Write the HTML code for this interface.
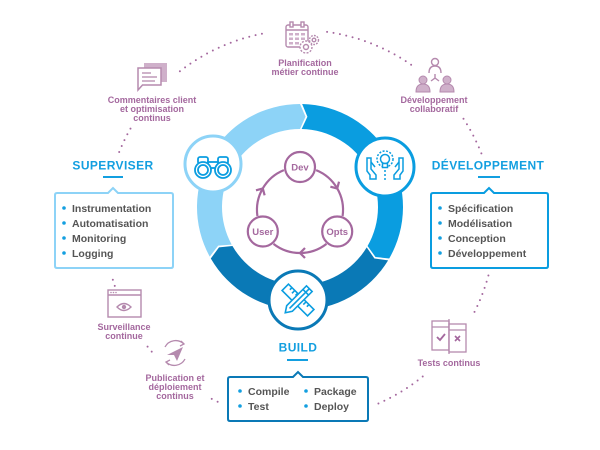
<!DOCTYPE html>
<html>
<head>
<meta charset="utf-8">
<style>
html,body{margin:0;padding:0;background:#fff;}
svg{display:block;}
.lbl{font-family:"Liberation Sans",sans-serif;font-weight:bold;font-size:9px;fill:#a4689e;text-anchor:middle;}
.hd{font-family:"Liberation Sans",sans-serif;font-weight:bold;font-size:12px;fill:#139fe0;text-anchor:middle;letter-spacing:0.4px;}
.it{font-family:"Liberation Sans",sans-serif;font-weight:bold;font-size:10.5px;fill:#555;}
.cy{font-family:"Liberation Sans",sans-serif;font-weight:bold;font-size:9.5px;fill:#a4689e;text-anchor:middle;}
</style>
</head>
<body>
<svg width="600" height="450" viewBox="0 0 600 450" xmlns="http://www.w3.org/2000/svg">
<rect width="600" height="450" fill="#fff"/>

<!-- dotted outer circle -->
<g fill="none" stroke="#a4689e" stroke-width="2" stroke-linecap="round" stroke-dasharray="0 6.5">
<path d="M179.9,71.3 A195,195 0 0,1 266.1,33"/>
<path d="M327.1,31.9 A195,195 0 0,1 414.6,67.2"/>
<path d="M463.5,118.8 A195,195 0 0,1 481.4,153.5"/>
<path d="M488.4,275.5 A195,195 0 0,1 473.7,313.5"/>
<path d="M422.7,376.5 A195,195 0 0,1 376.2,404.5"/>
<path d="M217.6,401.7 A195,195 0 0,1 208.4,397.2"/>
<path d="M151.7,351.6 A195,195 0 0,1 144.3,342.4"/>
<path d="M114.75,285.9 A195,195 0 0,1 112.3,277.8"/>
<path d="M119.2,152 A195,195 0 0,1 131.1,127.5"/>
</g>

<!-- ring -->
<g transform="translate(300,207)">
<path transform="rotate(150)" fill="#8dd3f7" d="M102.98,2.16 A103,103 0 0,1 -51.5,89.2 L-49.95,75.47 L-39,67.55 A78,78 0 0,0 77.98,1.63 L90.2,7.42 Z"/>
<path transform="rotate(270)" fill="#0a9de0" d="M102.98,2.16 A103,103 0 0,1 -51.5,89.2 L-49.95,75.47 L-39,67.55 A78,78 0 0,0 77.98,1.63 L90.2,7.42 Z"/>
<path transform="rotate(30)" fill="#0a79b6" d="M102.98,2.16 A103,103 0 0,1 -51.5,89.2 L-49.95,75.47 L-39,67.55 A78,78 0 0,0 77.98,1.63 L90.2,7.42 Z"/>
</g>

<!-- ring circles -->
<circle cx="213" cy="164" r="28" fill="#fff" stroke="#8dd3f7" stroke-width="3"/>
<circle cx="385" cy="167" r="29" fill="#fff" stroke="#0a9de0" stroke-width="3"/>
<circle cx="298" cy="300" r="29" fill="#fff" stroke="#0a79b6" stroke-width="3"/>

<!-- binoculars -->
<g fill="#fff" stroke="#0a9de0" stroke-width="1.8">
<rect x="198" y="157" width="10" height="7" rx="2"/>
<rect x="218" y="157" width="10" height="7" rx="2"/>
<rect x="208" y="162" width="10" height="6"/>
<circle cx="203" cy="170" r="8"/>
<circle cx="203" cy="170" r="5"/>
<circle cx="223" cy="170" r="8"/>
<circle cx="223" cy="170" r="5"/>
</g>

<!-- lightbulb with hands -->
<g fill="none" stroke="#0a9de0" stroke-width="1.5">
<circle cx="385" cy="159" r="8" stroke-dasharray="2 1.5"/>
<circle cx="385" cy="159" r="4.5" fill="#fff"/>
<rect x="382.5" y="163.5" width="5" height="4" fill="#fff"/>
<line x1="385" y1="170" x2="385" y2="182" stroke-dasharray="2 2"/>
<path d="M371,158 v11 l5,6 v4 h-6 v-4 l-3,-4 v-13 z"/>
<path d="M371,162 l4,5"/>
<path d="M399,158 v11 l-5,6 v4 h6 v-4 l3,-4 v-13 z"/>
<path d="M399,162 l-4,5"/>
</g>

<!-- ruler & pencil -->
<g transform="translate(298,300)" fill="#fff" stroke="#0a9de0" stroke-width="1.6">
<g transform="rotate(45)">
<rect x="-18" y="-4.5" width="36" height="9"/>
<path d="M-13,-4.5 v3 M-9,-4.5 v4 M-5,-4.5 v3 M-1,-4.5 v4 M3,-4.5 v3 M7,-4.5 v4 M11,-4.5 v3"/>
</g>
<g transform="rotate(-45)">
<path d="M-12,-4 H16 V4 H-12 L-18,0 Z"/>
<line x1="-12" y1="0" x2="16" y2="0"/>
<line x1="11" y1="-4" x2="11" y2="4"/>
</g>
</g>

<!-- inner cycle -->
<g fill="none" stroke="#a4689e" stroke-width="2.2">
<path d="M316.1,170.1 A43,43 0 0,1 342.6,216"/>
<path d="M326.5,243.9 A43,43 0 0,1 273.5,243.9"/>
<path d="M257.4,216 A43,43 0 0,1 283.9,170.1"/>
<polyline points="-5,-5 0,0 -5,5" transform="translate(337.2,188.5) rotate(60)"/>
<polyline points="-5,-5 0,0 -5,5" transform="translate(300,253) rotate(180)"/>
<polyline points="-5,-5 0,0 -5,5" transform="translate(262.8,188.5) rotate(300)"/>
<circle cx="300" cy="167" r="15" fill="#fff"/>
<circle cx="337.2" cy="231.5" r="15" fill="#fff"/>
<circle cx="262.8" cy="231.5" r="15" fill="#fff"/>
</g>
<text class="cy" x="300" y="170.5">Dev</text>
<text class="cy" x="337.2" y="235">Opts</text>
<text class="cy" x="262.8" y="235">User</text>

<!-- purple icons -->
<g fill="none" stroke="#b58aae" stroke-width="1.4">
<!-- calendar -->
<rect x="286" y="25" width="22" height="22" rx="2" fill="#fff"/>
<line x1="286" y1="30" x2="308" y2="30"/>
<rect x="290" y="22" width="3" height="5" fill="#fff"/>
<rect x="301" y="22" width="3" height="5" fill="#fff"/>
</g>
<g fill="#cfb0ca">
<rect x="289" y="33" width="4" height="2.5"/><rect x="295" y="33" width="4" height="2.5"/><rect x="301" y="33" width="4" height="2.5"/>
<rect x="289" y="37.5" width="4" height="2.5"/><rect x="295" y="37.5" width="4" height="2.5"/><rect x="301" y="37.5" width="4" height="2.5"/>
<rect x="289" y="42" width="4" height="2.5"/><rect x="295" y="42" width="4" height="2.5"/>
</g>
<g fill="#fff" stroke="#b58aae" stroke-width="1.4">
<circle cx="314" cy="40" r="4.5" stroke-dasharray="1.8 1.2"/>
<circle cx="314" cy="40" r="1.8"/>
<circle cx="306" cy="47" r="6" stroke-dasharray="2 1.4"/>
<circle cx="306" cy="47" r="2.5"/>
</g>

<!-- chat -->
<rect x="144" y="63" width="23" height="19" fill="#cfb0ca"/>
<path d="M138,68 H161 V85 H142.5 L138,90 Z" fill="#fff" stroke="#b58aae" stroke-width="1.5"/>
<g stroke="#b58aae" stroke-width="1.3">
<line x1="142" y1="73" x2="151" y2="73"/>
<line x1="142" y1="77" x2="157" y2="77"/>
<line x1="142" y1="81" x2="155" y2="81"/>
</g>

<!-- people -->
<g fill="none" stroke="#b58aae" stroke-width="1.4">
<circle cx="435" cy="62" r="3.5"/>
<path d="M429,73 q0,-7 6,-7 q6,0 6,7"/>
<path d="M435,74 v4 l-4,3 M435,78 l4,3"/>
</g>
<g fill="#cfb0ca" stroke="#b58aae" stroke-width="1">
<circle cx="423" cy="80" r="4"/>
<path d="M416,92 q0,-8 7,-8 q7,0 7,8 z"/>
<circle cx="447" cy="80" r="4"/>
<path d="M440,92 q0,-8 7,-8 q7,0 7,8 z"/>
</g>

<!-- surveillance -->
<g fill="none" stroke="#b58aae" stroke-width="1.4">
<rect x="108" y="290" width="33" height="27"/>
<line x1="108" y1="295" x2="141" y2="295"/>
<path d="M117,307 q7,-7 14,0 q-7,7 -14,0 z"/>
</g>
<circle cx="124" cy="307" r="2.2" fill="#b58aae"/>
<g fill="#b58aae"><circle cx="111" cy="292.5" r="0.8"/><circle cx="113.5" cy="292.5" r="0.8"/><circle cx="116" cy="292.5" r="0.8"/></g>

<!-- publication -->
<g fill="none" stroke="#b58aae" stroke-width="1.3">
<path d="M165,347 A12,12 0 0,1 184,344"/>
<path d="M185,359 A12,12 0 0,1 166,362"/>
<polyline points="181,341 184,344 180,346"/>
<polyline points="169,365 166,362 170,360"/>
</g>
<path d="M167,355 L183,347 L177,361 L174,355 Z" fill="#b58aae"/>

<!-- tests -->
<g fill="#fff" stroke="#b58aae" stroke-width="1.3">
<rect x="432" y="321" width="17" height="29"/>
<rect x="449" y="324" width="17" height="28"/>
<line x1="432" y1="327" x2="449" y2="327"/>
<line x1="449" y1="330" x2="466" y2="330"/>
<line x1="449" y1="319" x2="449" y2="354"/>
</g>
<path d="M437,337 l3,3 l5,-6" fill="none" stroke="#a4689e" stroke-width="1.8"/>
<path d="M455,336 l5,5 M460,336 l-5,5" fill="none" stroke="#a4689e" stroke-width="1.6"/>

<!-- purple labels -->
<text class="lbl" x="305" y="66">Planification</text>
<text class="lbl" x="305" y="75">métier continue</text>
<text class="lbl" x="152" y="103">Commentaires client</text>
<text class="lbl" x="152" y="112">et optimisation</text>
<text class="lbl" x="152" y="121">continus</text>
<text class="lbl" x="434" y="103">Développement</text>
<text class="lbl" x="434" y="112">collaboratif</text>
<text class="lbl" x="124" y="330">Surveillance</text>
<text class="lbl" x="124" y="339">continue</text>
<text class="lbl" x="175" y="381">Publication et</text>
<text class="lbl" x="175" y="390">déploiement</text>
<text class="lbl" x="175" y="399">continus</text>
<text class="lbl" x="449" y="366">Tests continus</text>

<!-- SUPERVISER -->
<text class="hd" x="113" y="169.5">SUPERVISER</text>
<line x1="103" y1="177" x2="123" y2="177" stroke="#139fe0" stroke-width="2"/>
<path d="M57,193 H108 L113,188 L118,193 H171 Q173,193 173,195 V266 Q173,268 171,268 H57 Q55,268 55,266 V195 Q55,193 57,193 Z" fill="#fff" stroke="#8dd3f7" stroke-width="2"/>
<g fill="#139fe0"><circle cx="64" cy="208" r="1.8"/><circle cx="64" cy="223" r="1.8"/><circle cx="64" cy="238" r="1.8"/><circle cx="64" cy="253" r="1.8"/></g>
<text class="it" x="72" y="212">Instrumentation</text>
<text class="it" x="72" y="227">Automatisation</text>
<text class="it" x="72" y="242">Monitoring</text>
<text class="it" x="72" y="257">Logging</text>

<!-- DEVELOPPEMENT -->
<text class="hd" x="488" y="169.5">DÉVELOPPEMENT</text>
<line x1="478" y1="177" x2="500" y2="177" stroke="#139fe0" stroke-width="2"/>
<path d="M433,193 H484 L489,188 L494,193 H546 Q548,193 548,195 V266 Q548,268 546,268 H433 Q431,268 431,266 V195 Q431,193 433,193 Z" fill="#fff" stroke="#0a9de0" stroke-width="2"/>
<g fill="#139fe0"><circle cx="440" cy="208" r="1.8"/><circle cx="440" cy="223" r="1.8"/><circle cx="440" cy="238" r="1.8"/><circle cx="440" cy="253" r="1.8"/></g>
<text class="it" x="448" y="212">Spécification</text>
<text class="it" x="448" y="227">Modélisation</text>
<text class="it" x="448" y="242">Conception</text>
<text class="it" x="448" y="257">Développement</text>

<!-- BUILD -->
<text class="hd" x="298" y="351.5">BUILD</text>
<line x1="287" y1="360" x2="308" y2="360" stroke="#139fe0" stroke-width="2"/>
<path d="M230,377 H293 L298,372 L303,377 H366 Q368,377 368,379 V419 Q368,421 366,421 H230 Q228,421 228,419 V379 Q228,377 230,377 Z" fill="#fff" stroke="#0a79b6" stroke-width="2"/>
<g fill="#139fe0"><circle cx="240" cy="391" r="1.8"/><circle cx="240" cy="406" r="1.8"/><circle cx="306" cy="391" r="1.8"/><circle cx="306" cy="406" r="1.8"/></g>
<text class="it" x="248" y="395">Compile</text>
<text class="it" x="248" y="410">Test</text>
<text class="it" x="314" y="395">Package</text>
<text class="it" x="314" y="410">Deploy</text>
</svg>
</body>
</html>
